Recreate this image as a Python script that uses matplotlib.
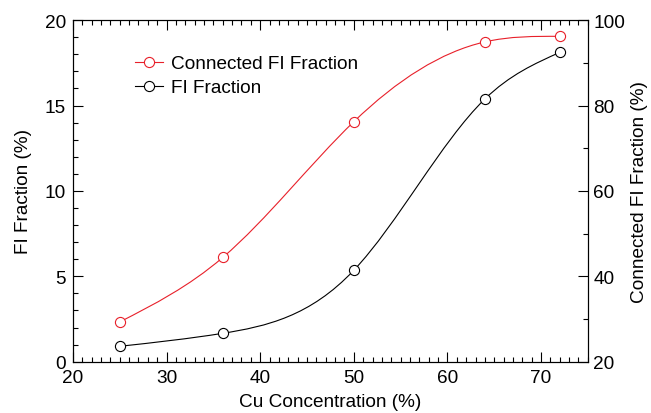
import numpy as np
import matplotlib
matplotlib.use("Agg")
import matplotlib.pyplot as plt
from matplotlib.path import Path
from matplotlib.patches import PathPatch
from matplotlib.lines import Line2D
from matplotlib.ticker import MultipleLocator

plt.rcParams['font.family'] = ['Liberation Sans', 'DejaVu Sans']

cu = [25, 36, 50, 64, 72]
fi_fraction = [0.90, 1.66, 5.35, 15.38, 18.11]
connected_fi = [29.3, 44.4, 76.2, 94.9, 96.2]

x_label = "Cu Concentration (%)"
y_left_label = "FI Fraction (%)"
y_right_label = "Connected FI Fraction (%)"
series_names = ["Connected FI Fraction", "FI Fraction"]


def spline_path(x, y):
    x = np.asarray(x, float)
    y = np.asarray(y, float)
    n = len(x)
    h = np.diff(x)
    A = np.zeros((n, n))
    b = np.zeros(n)
    A[0, 0] = 1
    A[-1, -1] = 1
    for i in range(1, n - 1):
        A[i, i - 1] = h[i - 1]
        A[i, i] = 2 * (h[i - 1] + h[i])
        A[i, i + 1] = h[i]
        b[i] = 6 * ((y[i + 1] - y[i]) / h[i] - (y[i] - y[i - 1]) / h[i - 1])
    M = np.linalg.solve(A, b)
    d = np.zeros(n)
    for i in range(n - 1):
        d[i] = (y[i + 1] - y[i]) / h[i] - h[i] * (2 * M[i] + M[i + 1]) / 6
    d[-1] = (y[-1] - y[-2]) / h[-1] + h[-1] * (M[-2] + 2 * M[-1]) / 6
    verts = [(x[0], y[0])]
    codes = [Path.MOVETO]
    for i in range(n - 1):
        verts += [(x[i] + h[i] / 3, y[i] + d[i] * h[i] / 3),
                  (x[i + 1] - h[i] / 3, y[i + 1] - d[i + 1] * h[i] / 3),
                  (x[i + 1], y[i + 1])]
        codes += [Path.CURVE4] * 3
    return Path(verts, codes)


fig = plt.figure(figsize=(6.51, 4.14), dpi=100)
ax = fig.add_axes([0.112, 0.124, 0.791, 0.825])
ax2 = ax.twinx()

red = '#e8202a'
lw = 0.8
ms = 7.3
ax.add_patch(PathPatch(spline_path(cu, fi_fraction), fill=False, edgecolor='black', lw=lw, zorder=2))
ax.plot(cu, fi_fraction, linestyle='none', marker='o', ms=ms, mfc='white', mec='black', mew=lw, zorder=3)
ax2.add_patch(PathPatch(spline_path(cu, connected_fi), fill=False, edgecolor=red, lw=lw, zorder=2))
ax2.plot(cu, connected_fi, linestyle='none', marker='o', ms=ms, mfc='white', mec=red, mew=lw, zorder=3)

ax.set_xlim(20, 75)
ax.set_ylim(0, 20)
ax2.set_ylim(20, 100)

ax.xaxis.set_major_locator(MultipleLocator(10))
ax.xaxis.set_minor_locator(MultipleLocator(1))
ax.yaxis.set_major_locator(MultipleLocator(5))
ax.yaxis.set_minor_locator(MultipleLocator(1))
ax2.yaxis.set_major_locator(MultipleLocator(20))
ax2.yaxis.set_minor_locator(MultipleLocator(10))

fs = 13.7
ax.tick_params(axis='x', which='both', direction='in', top=True, bottom=True, labelsize=fs, pad=5)
ax.tick_params(axis='y', which='both', direction='in', left=True, right=False, labelsize=fs, pad=5)
ax2.tick_params(axis='y', which='both', direction='in', labelsize=fs, pad=4)
for a in (ax, ax2):
    a.tick_params(which='major', length=7, width=0.8)
    a.tick_params(which='minor', length=3.5, width=0.8)
    for s in a.spines.values():
        s.set_linewidth(0.8)

ax.set_xlabel(x_label, fontsize=fs, labelpad=5)
ax.set_ylabel(y_left_label, fontsize=fs, labelpad=9)
ax2.set_ylabel(y_right_label, fontsize=fs, labelpad=4)

handles = [
    Line2D([], [], color=red, lw=lw, marker='o', ms=ms, mfc='white', mec=red, mew=lw),
    Line2D([], [], color='black', lw=lw, marker='o', ms=ms, mfc='white', mec='black', mew=lw),
]
ax.legend(handles, series_names, loc='upper left', bbox_to_anchor=(0.105, 0.92),
          frameon=False, fontsize=fs, handlelength=1.5, handletextpad=0.4,
          labelspacing=0.35, borderaxespad=0)

fig.savefig('out.png', dpi=100)
